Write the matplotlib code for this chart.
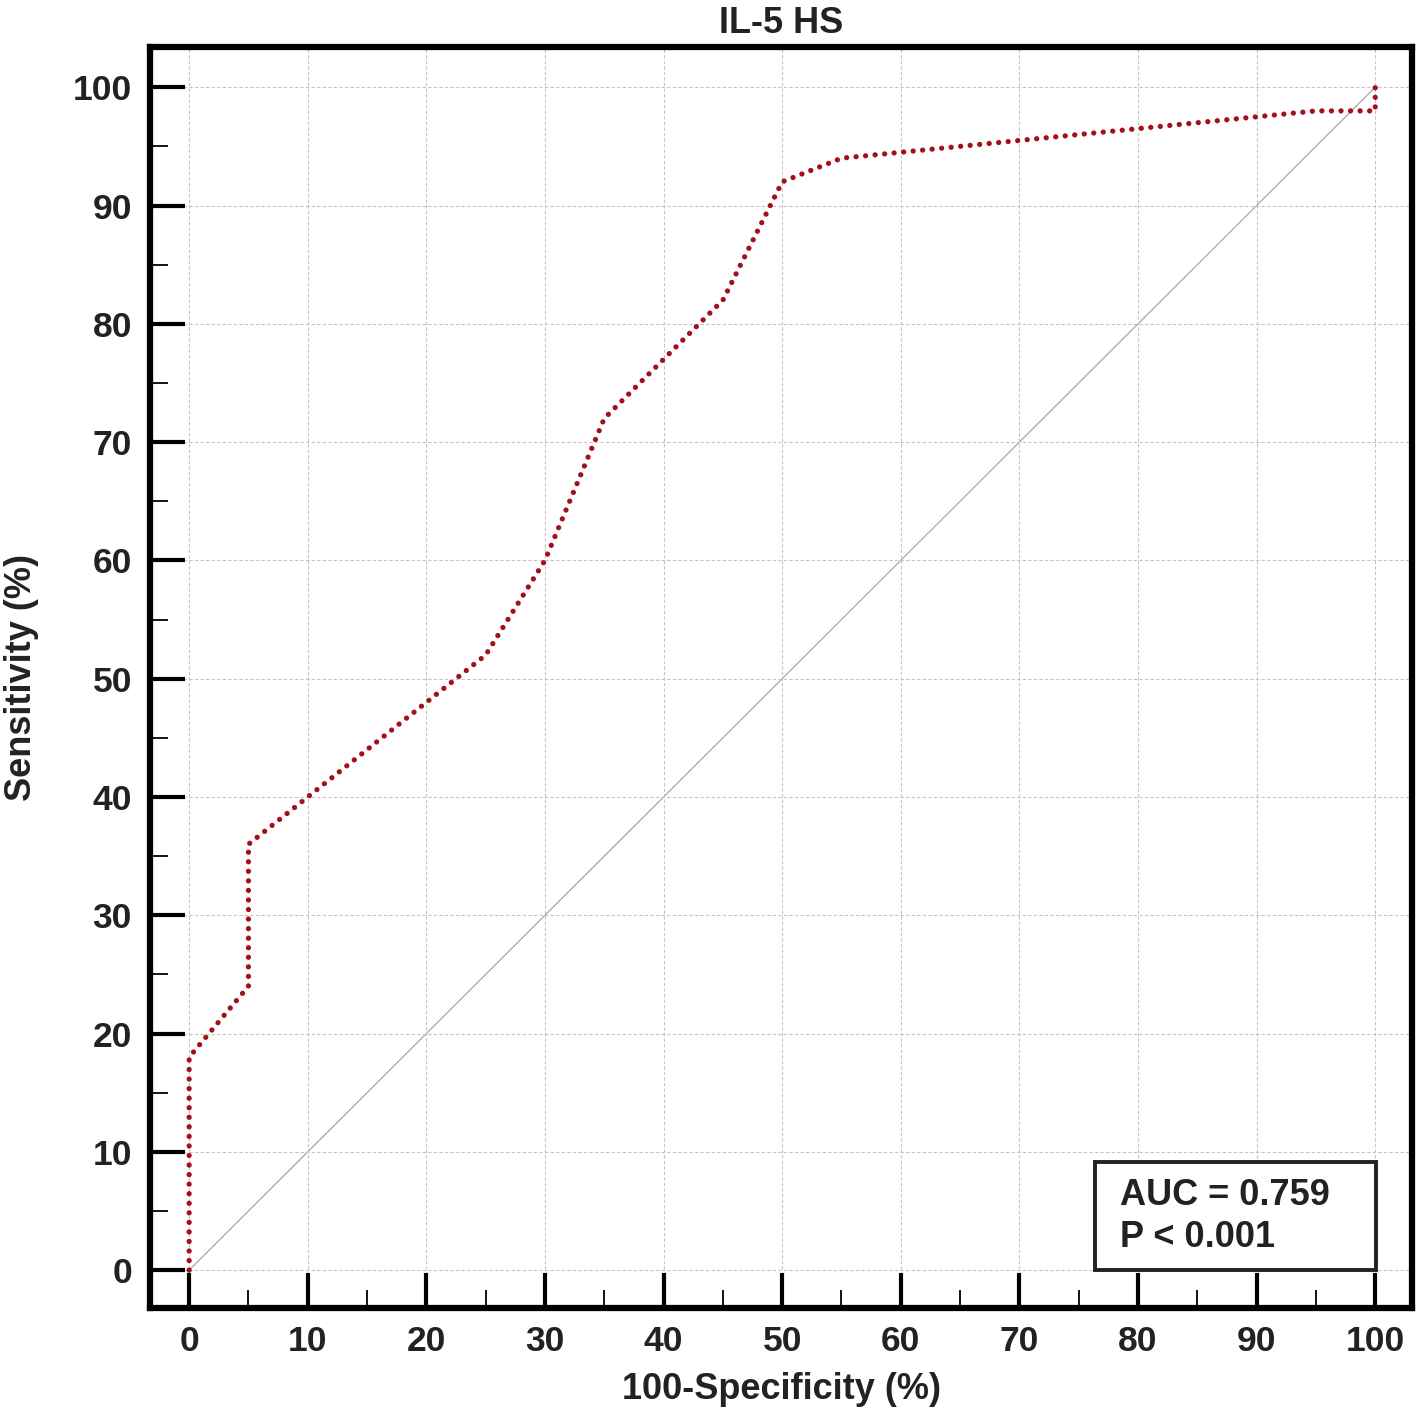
import matplotlib
matplotlib.use("Agg")
import matplotlib.pyplot as plt
from matplotlib.patches import Rectangle

plt.rcParams['font.family'] = ['Liberation Sans', 'DejaVu Sans']

# ROC curve points (100-Specificity %, Sensitivity %)
fpr = [0, 0, 5, 5, 25, 30, 35, 45, 50, 55, 95, 100, 100]
tpr = [0, 18, 24, 36, 52, 60, 72, 82, 92, 94, 98, 98, 100]
ref_line = [0, 100]
ticks = [0, 10, 20, 30, 40, 50, 60, 70, 80, 90, 100]
minor_ticks = [5, 15, 25, 35, 45, 55, 65, 75, 85, 95]
title = "IL-5 HS"
xlabel = "100-Specificity (%)"
ylabel = "Sensitivity (%)"
auc_text = "AUC = 0.759"
p_text = "P < 0.001"

fig = plt.figure(figsize=(14.16, 14.12), dpi=100)
ax = fig.add_axes([150/1416, (1412-1308)/1412, (1412-150)/1416, (1308-47)/1412])

ax.set_xlim(-3.3, 103.1)
ax.set_ylim(-3.2, 103.4)

ax.set_xticks(ticks)
ax.set_yticks(ticks)
ax.set_xticks(minor_ticks, minor=True)
ax.set_yticks(minor_ticks, minor=True)
ax.grid(True, which='major', color='#c4c4c4', linestyle=(0, (3, 2)), linewidth=0.8, zorder=0)

ax.plot(ref_line, ref_line, color='#a8a8a8', linewidth=0.9, zorder=1)
ax.plot(fpr, tpr, color='#a3101c', linewidth=3.8, linestyle=(0, (0.01, 1.8)),
        dash_capstyle='round', zorder=3)

for s in ax.spines.values():
    s.set_linewidth(4.5)
    s.set_color('black')

ax.tick_params(which='major', direction='in', length=25, width=3, pad=13,
               labelsize=25.5, colors='black')
ax.tick_params(which='minor', direction='in', length=13, width=1.3)
ax.tick_params(axis='x', which='major', pad=12)
for lab in ax.get_xticklabels() + ax.get_yticklabels():
    lab.set_fontweight('bold')
    lab.set_color('#222222')

ax.set_title(title, fontsize=26, fontweight='bold', pad=10, color='#222222')
ax.set_xlabel(xlabel, fontsize=26, fontweight='bold', labelpad=10, color='#222222')
ax.set_ylabel(ylabel, fontsize=26, fontweight='bold', labelpad=24, color='#222222')

ax.add_patch(Rectangle((0.749, 0.0301), 0.2225, 0.0857, transform=ax.transAxes,
                       fill=True, facecolor='white', edgecolor='#222222',
                       linewidth=2.8, zorder=4))
ax.text(0.7686, 0.0817, auc_text, transform=ax.transAxes, fontsize=26,
        fontweight='bold', color='#222222', zorder=5, va='baseline')
ax.text(0.7686, 0.0484, p_text, transform=ax.transAxes, fontsize=26,
        fontweight='bold', color='#222222', zorder=5, va='baseline')

fig.savefig("out.png", dpi=100)
